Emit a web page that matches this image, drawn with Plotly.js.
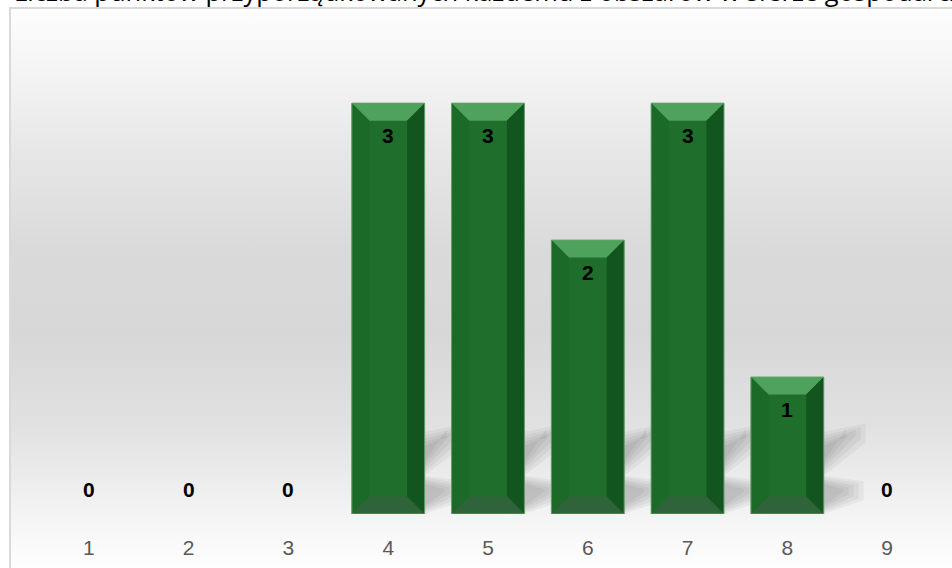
<!DOCTYPE html>
<html>
<head>
<meta charset="utf-8">
<script src="https://cdn.plot.ly/plotly-3.0.1.min.js"></script>
<style>html,body{margin:0;padding:0;background:#fff;}#chart{width:952px;height:568px;}</style>
</head>
<body>
<div id="chart"></div>
<script>
// ---- data ----
var categories = [1, 2, 3, 4, 5, 6, 7, 8, 9];
var tickLabels = ['1', '2', '3', '4', '5', '6', '7', '8', '9'];
var values = [0, 0, 0, 3, 3, 2, 3, 1, 0];
var titleText = 'Liczba punktów przyporządkowanych każdemu z obszarów w sferze gospodarczej';

// ---- styling ----
var W = 952, H = 568;
var M = {l: 39, r: 15, t: 10, b: 54};
var yMax = 3.68;
var barWidth = 0.73;
var plotW = W - M.l - M.r, plotH = H - M.t - M.b;
var xUnitPx = plotW / 9, yUnitPx = plotH / yMax;
var bevelPx = 17.5;
var bx = bevelPx / xUnitPx, by = bevelPx / yUnitPx;
var hw = barWidth / 2;

function px2paperX(p) { return (p - M.l) / plotW; }
function px2paperY(p) { return (H - M.b - p) / plotH; }

// background gradient as svg image
var svg = '<svg xmlns="http://www.w3.org/2000/svg" width="100" height="100" preserveAspectRatio="none">' +
  '<defs><linearGradient id="g" x1="0" y1="0" x2="0" y2="1">' +
  '<stop offset="0" stop-color="#fdfdfd"/>' +
  '<stop offset="0.09" stop-color="#f6f6f6"/>' +
  '<stop offset="0.25" stop-color="#e7e7e7"/>' +
  '<stop offset="0.42" stop-color="#dadada"/>' +
  '<stop offset="0.57" stop-color="#d7d7d7"/>' +
  '<stop offset="0.73" stop-color="#e1e1e1"/>' +
  '<stop offset="0.84" stop-color="#eeeeee"/>' +
  '<stop offset="0.93" stop-color="#f9f9f9"/>' +
  '<stop offset="1" stop-color="#ffffff"/>' +
  '</linearGradient></defs><rect width="100" height="100" fill="url(#g)"/></svg>';
var svgUri = 'data:image/svg+xml;base64,' + btoa(svg);

var boxL = 10, boxT = 8, boxR = 970, boxB = 580;

var shapes = [];
// chart box border
shapes.push({type: 'rect', xref: 'paper', yref: 'paper', layer: 'below',
  x0: px2paperX(boxL), x1: px2paperX(boxR), y0: px2paperY(boxB), y1: px2paperY(boxT),
  line: {color: '#d9d9d9', width: 2}, fillcolor: 'rgba(0,0,0,0)'});

// soft shadows and bevels built from data
var shadowSteps = [0, 0.025, 0.05, 0.075, 0.1];
categories.forEach(function (c, i) {
  var v = values[i];
  if (v <= 0) return;
  var xl = c - hw, xr = c + hw;
  shadowSteps.forEach(function (o) {
    var a = 0.045;
    // upper band
    shapes.push({type: 'path', layer: 'below', xref: 'x', yref: 'y', line: {width: 0},
      fillcolor: 'rgba(0,0,0,' + a + ')',
      path: 'M' + xr + ',' + (0.28 + o) + ' L' + (xr + 0.42 - 2 * o) + ',' + (0.52 + o) +
        ' L' + (xr + 0.42 - 2 * o) + ',' + (0.66 - o) + ' L' + xr + ',' + (0.60 - o) + ' Z'});
    // lower band
    shapes.push({type: 'path', layer: 'below', xref: 'x', yref: 'y', line: {width: 0},
      fillcolor: 'rgba(0,0,0,' + a + ')',
      path: 'M' + xr + ',' + (0.0 + o * 0.6) + ' L' + (xr + 0.4 - 2 * o) + ',' + (0.1 + o * 0.6) +
        ' L' + (xr + 0.4 - 2 * o) + ',' + (0.24 - o * 0.6) + ' L' + xr + ',' + (0.28 - o * 0.6) + ' Z'});
  });
  // bevel faces
  shapes.push({type: 'path', layer: 'above', xref: 'x', yref: 'y', line: {width: 0}, fillcolor: '#4fa25b',
    path: 'M' + xl + ',' + v + ' L' + xr + ',' + v + ' L' + (xr - bx) + ',' + (v - by) + ' L' + (xl + bx) + ',' + (v - by) + ' Z'});
  shapes.push({type: 'path', layer: 'above', xref: 'x', yref: 'y', line: {width: 0}, fillcolor: '#1c6a28',
    path: 'M' + xl + ',' + v + ' L' + (xl + bx) + ',' + (v - by) + ' L' + (xl + bx) + ',' + by + ' L' + xl + ',0 Z'});
  shapes.push({type: 'path', layer: 'above', xref: 'x', yref: 'y', line: {width: 0}, fillcolor: '#13551f',
    path: 'M' + xr + ',' + v + ' L' + (xr - bx) + ',' + (v - by) + ' L' + (xr - bx) + ',' + by + ' L' + xr + ',0 Z'});
  shapes.push({type: 'path', layer: 'above', xref: 'x', yref: 'y', line: {width: 0}, fillcolor: '#2f633a',
    path: 'M' + xl + ',0 L' + xr + ',0 L' + (xr - bx) + ',' + by + ' L' + (xl + bx) + ',' + by + ' Z'});
  shapes.push({type: 'rect', layer: 'above', xref: 'x', yref: 'y', x0: xl, x1: xr, y0: 0, y1: v,
    line: {color: '#62a06b', width: 1}, fillcolor: 'rgba(0,0,0,0)'});
});

// value labels
var annotations = categories.map(function (c, i) {
  var v = values[i];
  return {x: c, y: v, xref: 'x', yref: 'y', text: String(v), showarrow: false,
    yshift: v > 0 ? -32 : 25,
    font: {family: 'Liberation Sans, Arial, sans-serif', size: 21, color: '#000000', weight: 'bold'}};
});
// title (partly cut off at the top edge, as in the reference)
annotations.push({xref: 'paper', yref: 'paper', x: px2paperX(12), y: px2paperY(10),
  xanchor: 'left', yanchor: 'bottom', showarrow: false, text: titleText,
  font: {family: 'Open Sans, sans-serif', size: 25.5, color: '#000000'}});

var trace = {
  type: 'bar', x: categories, y: values, width: barWidth,
  marker: {color: '#1f6e2b', line: {width: 0}},
  hoverinfo: 'none'
};

var layout = {
  width: W, height: H,
  margin: M,
  paper_bgcolor: '#ffffff',
  plot_bgcolor: 'rgba(0,0,0,0)',
  showlegend: false,
  xaxis: {range: [0.5, 9.5], tickvals: categories, ticktext: tickLabels, showgrid: false,
    zeroline: false, showline: false, ticks: '', fixedrange: true, ticklabelstandoff: 19,
    tickfont: {family: 'Liberation Sans, Arial, sans-serif', size: 21, color: '#595959'}},
  yaxis: {range: [0, yMax], visible: false, showgrid: false, zeroline: false, fixedrange: true},
  images: [{source: svgUri, xref: 'paper', yref: 'paper', layer: 'below',
    x: px2paperX(boxL), y: px2paperY(boxT), sizex: (boxR - boxL) / plotW, sizey: (boxB - boxT) / plotH,
    xanchor: 'left', yanchor: 'top', sizing: 'stretch'}],
  shapes: shapes,
  annotations: annotations
};

Plotly.newPlot('chart', [trace], layout, {displayModeBar: false, staticPlot: true});
</script>
</body>
</html>
